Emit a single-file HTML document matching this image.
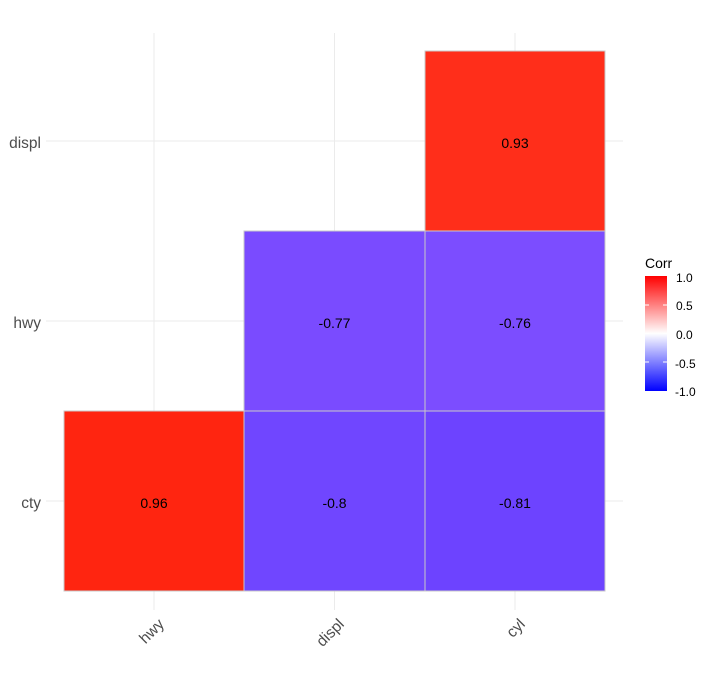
<!DOCTYPE html>
<html><head><style>body{margin:0;background:#fff}</style></head><body>
<svg width="711" height="686" xmlns="http://www.w3.org/2000/svg" font-family="Liberation Sans, sans-serif">
<defs><linearGradient id="g" x1="0" y1="0" x2="0" y2="1">
<stop offset="0" stop-color="#ff0000"/><stop offset="0.5" stop-color="#ffffff"/><stop offset="1" stop-color="#0000ff"/></linearGradient></defs>
<g stroke="#ebebeb" stroke-width="1">
<line x1="154" y1="33" x2="154" y2="610"/><line x1="334.5" y1="33" x2="334.5" y2="610"/><line x1="515" y1="33" x2="515" y2="610"/>
<line x1="46" y1="141" x2="623" y2="141"/><line x1="46" y1="321" x2="623" y2="321"/><line x1="46" y1="501" x2="623" y2="501"/>
</g>
<g stroke="#c8c8c8" stroke-width="1">
<rect x="425" y="51" width="180" height="180" fill="#ff2e1a"/>
<rect x="244" y="231" width="181" height="180" fill="#7a4bff"/>
<rect x="425" y="231" width="180" height="180" fill="#7c4dff"/>
<rect x="64" y="411" width="180" height="180" fill="#ff2510"/>
<rect x="244" y="411" width="181" height="180" fill="#7046ff"/>
<rect x="425" y="411" width="180" height="180" fill="#6d43ff"/>
</g>
<g font-size="14" text-anchor="middle" fill="#000">
<text x="515" y="148">0.93</text><text x="334.5" y="328">-0.77</text><text x="515" y="328">-0.76</text>
<text x="154" y="508">0.96</text><text x="334.5" y="508">-0.8</text><text x="515" y="508">-0.81</text>
</g>
<g font-size="15.5" fill="#4d4d4d" text-anchor="end">
<text x="41" y="148">displ</text><text x="41" y="328">hwy</text><text x="41" y="508">cty</text>
<text transform="translate(165,625) rotate(-45)">hwy</text>
<text transform="translate(345,625) rotate(-45)">displ</text>
<text transform="translate(526,625) rotate(-45)">cyl</text>
</g>
<text x="645" y="268" font-size="14" fill="#000">Corr</text>
<rect x="645" y="276" width="22" height="115" fill="url(#g)"/>
<g stroke="#fff" stroke-width="1">
<line x1="645" y1="305" x2="649" y2="305"/><line x1="663" y1="305" x2="667" y2="305"/>
<line x1="645" y1="333.5" x2="649" y2="333.5"/><line x1="663" y1="333.5" x2="667" y2="333.5"/>
<line x1="645" y1="362" x2="649" y2="362"/><line x1="663" y1="362" x2="667" y2="362"/>
</g>
<g font-size="12" fill="#000">
<text x="676" y="282">1.0</text><text x="676" y="310">0.5</text><text x="676" y="339">0.0</text>
<text x="675" y="368">-0.5</text><text x="675" y="396">-1.0</text>
</g>
</svg>
</body></html>
